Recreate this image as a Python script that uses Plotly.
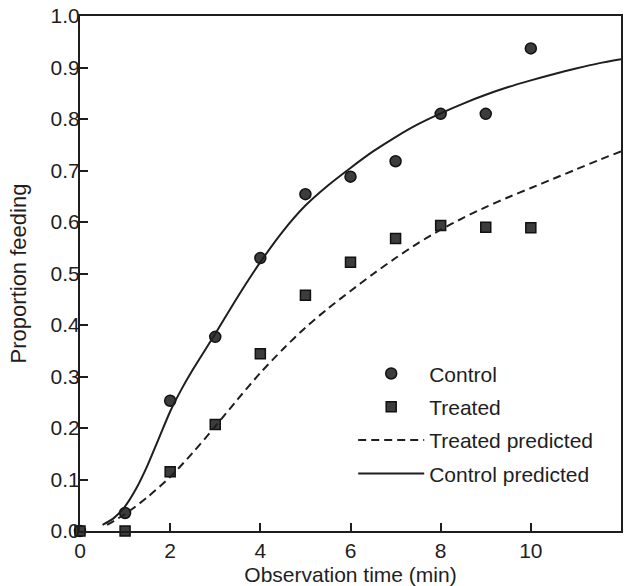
import plotly.graph_objects as go

# Observed data
obs_x = [0, 1, 2, 3, 4, 5, 6, 7, 8, 9, 10]
control_y = [0.0, 0.035, 0.253, 0.377, 0.530, 0.654, 0.688, 0.718, 0.810, 0.810, 0.937]
treated_y = [0.0, 0.0, 0.115, 0.207, 0.344, 0.458, 0.522, 0.568, 0.593, 0.590, 0.589]

# Predicted curves
ctrl_pred_x = [0.5, 0.75, 1, 1.25, 1.5, 1.75, 2, 2.25, 2.5, 3, 3.5, 4, 4.5, 5, 5.5, 6, 6.5,
               7, 7.5, 8, 8.5, 9, 9.5, 10, 10.5, 11, 11.5, 12]
ctrl_pred_y = [0.012, 0.025, 0.048, 0.083, 0.128, 0.18, 0.232, 0.275, 0.313, 0.383, 0.455,
               0.522, 0.582, 0.632, 0.671, 0.705, 0.737, 0.765, 0.79, 0.811, 0.83, 0.847,
               0.862, 0.875, 0.887, 0.898, 0.908, 0.916]
trt_pred_x = [0.6, 1, 1.5, 2, 2.5, 3, 3.5, 4, 4.5, 5, 5.5, 6, 6.5, 7, 7.5, 8,
              8.5, 9, 9.5, 10, 10.5, 11, 11.5, 12]
trt_pred_y = [0.012, 0.033, 0.066, 0.105, 0.152, 0.203, 0.256, 0.307, 0.353, 0.395, 0.432,
              0.466, 0.499, 0.53, 0.559, 0.585, 0.608, 0.629, 0.648, 0.666, 0.684, 0.702,
              0.72, 0.737]

x_ticks = [0, 2, 4, 6, 8, 10, 12]
y_ticks = [0.0, 0.1, 0.2, 0.3, 0.4, 0.5, 0.6, 0.7, 0.8, 0.9, 1.0]

FONT = "Liberation Sans, Arial, sans-serif"
INK = "#1e1e1e"

fig = go.Figure()
fig.add_trace(go.Scatter(
    x=obs_x, y=control_y, mode="markers", name="Control", legendgroup="a",
    marker=dict(symbol="circle", size=11, color="#3c3c3c", line=dict(color="#111", width=1.5)),
    cliponaxis=False))
fig.add_trace(go.Scatter(
    x=obs_x, y=treated_y, mode="markers", name="Treated", legendgroup="b",
    marker=dict(symbol="square", size=10, color="#3c3c3c", line=dict(color="#111", width=1.5)),
    cliponaxis=False))
fig.add_trace(go.Scatter(
    x=trt_pred_x, y=trt_pred_y, mode="lines", name="Treated predicted", legendgroup="c",
    line=dict(color=INK, width=2, dash="8px,5px", shape="spline", smoothing=0.8)))
fig.add_trace(go.Scatter(
    x=ctrl_pred_x, y=ctrl_pred_y, mode="lines", name="Control predicted", legendgroup="d",
    line=dict(color=INK, width=2, shape="spline", smoothing=0.8)))

fig.update_layout(
    width=630, height=586,
    margin=dict(l=80, r=9, t=16, b=55),
    paper_bgcolor="white", plot_bgcolor="white",
    font=dict(family=FONT, size=21, color=INK),
    showlegend=True,
    legend=dict(x=0.505, y=0.345, xanchor="left", yanchor="top",
                bgcolor="rgba(0,0,0,0)", font=dict(size=21, color=INK),
                tracegroupgap=3, itemwidth=66, traceorder="grouped"),
)
fig.update_xaxes(
    range=[0, 12], tickvals=x_ticks, ticktext=[str(v) for v in x_ticks],
    showgrid=False, zeroline=False, showline=True, linecolor=INK, linewidth=2,
    mirror=True, ticks="inside", ticklen=8, tickwidth=2, tickcolor=INK,
    tickfont=dict(size=21), automargin=False,
    title=dict(text="Observation time (min)", font=dict(size=21), standoff=10))
fig.update_yaxes(
    range=[0, 1.0], tickvals=y_ticks, ticktext=[f"{v:.1f}" for v in y_ticks],
    showgrid=False, zeroline=False, showline=True, linecolor=INK, linewidth=2,
    mirror=True, ticks="inside", ticklen=8, tickwidth=2, tickcolor=INK,
    tickfont=dict(size=21), ticklabelstandoff=-6, automargin=False,
    title=dict(text="Proportion feeding", font=dict(size=22), standoff=18))

fig.write_html("out.html")
